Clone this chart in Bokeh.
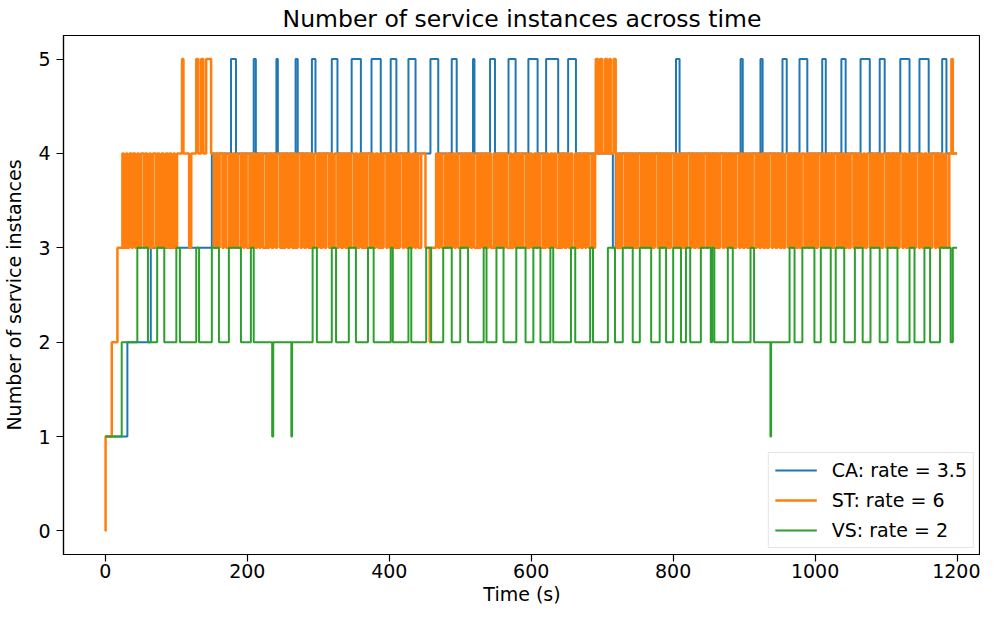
from bokeh.plotting import figure
from bokeh.models import Range1d, Legend, LegendItem, FixedTicker
from bokeh.embed import file_html
from bokeh.resources import INLINE

T_END = 1200
FONT = "DejaVu Sans"

# ---------------- CA: rate = 3.5 ----------------
ca_base_t = [0, 31, 64, 150]
ca_base_v = [1, 2, 3, 4]
ca_up_start = [177, 209, 241, 268, 291, 319, 347, 375, 402, 427, 458, 488, 518, 542,
               568, 596, 621, 652, 804, 895, 923, 954, 978, 1010, 1037, 1064, 1091,
               1120, 1147, 1179]
ca_up_end = [184, 212, 243, 271, 296, 327, 360, 388, 410, 437, 469, 495, 520, 549,
             578, 609, 638, 663, 809, 898, 926, 960, 989, 1015, 1043, 1077, 1098,
             1133, 1160, 1185]
ca_dip_start = [715]
ca_dip_end = [719]

# ---------------- ST: rate = 6 ----------------
st_base_t = [0, 0.3, 9, 17, 457, 458]
st_base_v = [0, 1, 2, 3, 2, 3]
st_up_start = [108, 128, 135, 142, 691, 697, 704, 710, 716, 1192]
st_up_end = [110, 131, 138, 149, 694, 700, 707, 712, 719, 1194]
st_dip_start = [118]
st_dip_end = [121]
# instants where ST switches between 3 and 4 (first switch of each run given by *_first)
st_run_a_first = 4
st_run_a = [24, 26, 29, 31, 34, 37, 39, 42, 45, 47, 50, 54, 56, 59, 62, 64, 67, 71, 73, 76,
            79, 82, 85, 88, 90, 93, 96, 98, 101]
st_run_b_first = 3
st_run_b = [153, 156, 158, 161, 165, 167, 170, 174, 176, 179, 182, 185, 187, 191, 194, 196,
            199, 203, 205, 208, 211, 214, 217, 219, 222, 226, 228, 231, 234, 237, 240, 242,
            246, 249, 251, 254, 257, 260, 263, 266, 268, 271, 275, 277, 280, 283, 286, 289,
            291, 294, 298, 300, 303, 306, 309, 311, 315, 318, 320, 323, 327, 329, 332, 335,
            338, 341, 343, 346, 350, 352, 355, 358, 361, 364, 366, 369, 373, 375, 378, 381,
            384, 387, 389, 392, 396, 398, 401, 404, 407, 410, 412, 415, 419, 421, 424, 427,
            430, 433, 436, 438, 441, 445, 451]
st_run_c_first = 4
st_run_c = [466, 469, 471, 474, 478, 480, 483, 486, 489, 492, 494, 497, 501, 503, 506, 509,
            512, 515, 517, 520, 524, 526, 529, 532, 535, 538, 540, 543, 547, 549, 552, 555,
            558, 561, 563, 566, 570, 572, 575, 578, 581, 584, 586, 589, 593, 595, 598, 601,
            604, 607, 609, 612, 616, 618, 621, 624, 627, 630, 632, 635, 639, 641, 644, 647,
            650, 653, 655, 658, 662, 664, 667, 670, 673, 676, 678, 681, 685, 687, 690]
st_run_d_first = 3
st_run_d = [720, 723, 725, 728, 732, 734, 737, 740, 743, 746, 748, 751, 755, 757, 760, 763,
            766, 769, 771, 774, 778, 780, 783, 786, 789, 792, 794, 797, 801, 803, 806, 809,
            812, 815, 817, 820, 824, 826, 829, 832, 835, 838, 840, 843, 847, 849, 852, 855,
            858, 861, 863, 866, 870, 872, 875, 878, 881, 884, 886, 889, 893, 895, 898, 901,
            904, 907, 909, 912, 916, 918, 921, 924, 927, 930, 932, 935, 939, 941, 944, 947,
            950, 953, 955, 958, 962, 964, 967, 970, 973, 976, 978, 981, 985, 987, 990, 993,
            996, 999, 1001, 1004, 1008, 1010, 1013, 1016, 1019, 1022, 1024, 1027, 1031, 1033,
            1036, 1039, 1042, 1045, 1047, 1050, 1054, 1056, 1059, 1062, 1065, 1068, 1070,
            1073, 1077, 1079, 1082, 1085, 1088, 1091, 1093, 1096, 1100, 1102, 1105, 1108,
            1111, 1114, 1116, 1119, 1123, 1125, 1128, 1131, 1134, 1137, 1139, 1142, 1146,
            1148, 1151, 1154, 1157, 1160, 1162, 1165, 1169, 1171, 1174, 1177, 1180, 1183,
            1185, 1189]

# ---------------- VS: rate = 2 ----------------
vs_base_t = [0, 23, 1194]
vs_base_v = [1, 2, 3]
vs_up_start = [45, 73, 100, 128, 150, 174, 205, 292, 319, 343, 370, 402, 427, 452, 476, 500,
               533, 551, 579, 603, 627, 656, 683, 708, 729, 753, 781, 800, 818, 839, 855,
               877, 909, 964, 982, 1008, 1029, 1056, 1078, 1102, 1133, 1154, 1176]
vs_up_end = [60, 83, 105, 132, 160, 191, 209, 298, 325, 353, 378, 405, 431, 459, 488, 511,
             537, 561, 592, 613, 631, 662, 687, 718, 743, 769, 790, 811, 824, 853, 858,
             884, 914, 971, 999, 1022, 1041, 1067, 1091, 1116, 1140, 1162, 1191]
vs_dip_start = [235, 262, 937]
vs_dip_end = [236.5, 263, 938]

series_labels = ["CA: rate = 3.5", "ST: rate = 6", "VS: rate = 2"]
series_colors = ["#1f77b4", "#ff7f0e", "#2ca02c"]
x_ticks = [0, 200, 400, 600, 800, 1000, 1200]
y_ticks = [0, 1, 2, 3, 4, 5]


def events_from(base_t, base_v, pulses=(), runs=()):
    ev = list(zip(base_t, base_v))
    for starts, ends, lvl, back in pulses:
        for a, b in zip(starts, ends):
            ev.append((a, lvl))
            ev.append((b, back))
    for first, other, times in runs:
        for i, t in enumerate(times):
            ev.append((t, first if i % 2 == 0 else other))
    ev.sort(key=lambda e: e[0])
    xs = [e[0] for e in ev] + [T_END]
    ys = [e[1] for e in ev] + [ev[-1][1]]
    return xs, ys


ca_x, ca_y = events_from(ca_base_t, ca_base_v,
                         pulses=[(ca_up_start, ca_up_end, 5, 4), (ca_dip_start, ca_dip_end, 3, 4)])
st_x, st_y = events_from(st_base_t, st_base_v,
                         pulses=[(st_up_start, st_up_end, 5, 4), (st_dip_start, st_dip_end, 3, 4)],
                         runs=[(st_run_a_first, 3, st_run_a), (st_run_b_first, 4, st_run_b),
                               (st_run_c_first, 3, st_run_c), (st_run_d_first, 4, st_run_d)])
vs_x, vs_y = events_from(vs_base_t, vs_base_v,
                         pulses=[(vs_up_start, vs_up_end, 3, 2), (vs_dip_start, vs_dip_end, 1, 2)])

p = figure(width=980, height=611, output_backend="svg", toolbar_location=None,
           x_range=Range1d(-59, 1233), y_range=Range1d(-0.25, 5.25),
           title="Number of service instances across time",
           min_border_left=61, min_border_right=0, min_border_top=32, min_border_bottom=57)

p.title.text_font = FONT
p.title.text_font_size = "23.5px"
p.title.text_font_style = "normal"
p.title.text_color = "#000000"
p.title.align = "center"
p.title.standoff = 5
p.title.offset = 8

p.xgrid.visible = False
p.ygrid.visible = False
p.outline_line_color = "#000000"
p.outline_line_width = 1.2
p.background_fill_color = "white"
p.border_fill_color = "white"

for ax in (p.xaxis[0], p.yaxis[0]):
    ax.major_label_text_font = FONT
    ax.major_label_text_font_size = "19px"
    ax.major_label_text_color = "#000000"
    ax.axis_label_text_font = FONT
    ax.axis_label_text_font_size = "19px"
    ax.axis_label_text_font_style = "normal"
    ax.axis_label_text_color = "#000000"
    ax.axis_line_color = "#000000"
    ax.axis_line_width = 1.2
    ax.major_tick_line_color = "#000000"
    ax.major_tick_line_width = 1.2
    ax.major_tick_out = 7
    ax.major_tick_in = 0
    ax.minor_tick_line_color = None

p.xaxis.ticker = FixedTicker(ticks=x_ticks)
p.yaxis.ticker = FixedTicker(ticks=y_ticks)
p.xaxis.axis_label = "Time (s)"
p.yaxis.axis_label = "Number of service instances"
p.xaxis.major_label_standoff = 2
p.yaxis.major_label_standoff = 6
p.xaxis.axis_label_standoff = 2
p.yaxis.axis_label_standoff = 10

r_ca = p.step(ca_x, ca_y, mode="after", line_width=2, line_color=series_colors[0])
r_st = p.step(st_x, st_y, mode="after", line_width=2.5, line_color=series_colors[1])
r_vs = p.step(vs_x, vs_y, mode="after", line_width=2, line_color=series_colors[2])

legend = Legend(items=[LegendItem(label=series_labels[0], renderers=[r_ca]),
                       LegendItem(label=series_labels[1], renderers=[r_st]),
                       LegendItem(label=series_labels[2], renderers=[r_vs])],
                location="bottom_right")
legend.label_text_font = FONT
legend.label_text_font_size = "19px"
legend.label_text_color = "#000000"
legend.glyph_width = 42
legend.glyph_height = 22
legend.label_height = 22
legend.label_standoff = 15
legend.spacing = 8
legend.padding = 6
legend.margin = 6
legend.border_line_color = "#cccccc"
legend.border_line_width = 1
legend.background_fill_color = "white"
legend.background_fill_alpha = 0.8
p.add_layout(legend, "center")

open("out.html", "w").write(file_html(p, INLINE))
